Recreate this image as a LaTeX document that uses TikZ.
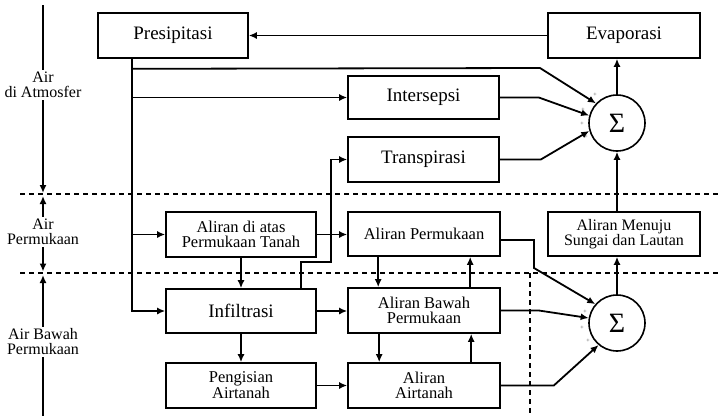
\documentclass[tikz,border=0pt]{standalone}
\usepackage{fontspec}
\setmainfont{Liberation Serif}
\usetikzlibrary{arrows.meta,calc}
\begin{document}
\begin{tikzpicture}[x=1pt,y=-1pt,
 box/.style={draw,line width=1.6pt,inner sep=0pt,align=center,minimum width=151pt,minimum height=45pt,font=\fontsize{19}{19}\selectfont},
 box2/.style={box,font=\fontsize{16.5}{15}\selectfont},
 arr/.style={line width=1.8pt,-{Latex[length=8pt,width=7pt]}},
 ln/.style={line width=1.8pt},
 dsh/.style={line width=1.4pt,dash pattern=on 5pt off 4pt},
 lab/.style={align=center,font=\fontsize{16}{15}\selectfont,inner sep=2pt},
 sig/.style={draw,circle,line width=1.6pt,minimum size=56pt,inner sep=0pt,font=\fontsize{28}{28}\selectfont},
 pl/.style={font=\fontsize{6}{6}\selectfont,text=black!75,inner sep=0pt}]
\useasboundingbox (0,0) rectangle (718,416);

% boxes
\node[box,minimum width=150pt] (pres) at (173,35.5) {Presipitasi};
\node[box,minimum width=152pt] (evap) at (624,35.5) {Evaporasi};
\node[box,minimum height=43pt] (inter) at (423.5,97.5) {Intersepsi};
\node[box] (trans) at (423.5,159.5) {Transpirasi};
\node[sig] (s1) at (617,123) {Σ};
\node[box2,minimum width=150pt] (atas) at (241,234.5) {Aliran di atas\\Permukaan Tanah};
\node[box2,minimum width=152pt,minimum height=44pt] (perm) at (424,234) {Aliran Permukaan};
\node[box2,minimum width=152pt,minimum height=44pt,font=\fontsize{16}{15}\selectfont] (menuju) at (624,234) {Aliran Menuju\\Sungai dan Lautan};
\node[box,minimum width=150pt,minimum height=44pt] (infil) at (241,311) {Infiltrasi};
\node[box2,minimum width=152pt] (bawah) at (424,310.5) {Aliran Bawah\\Permukaan};
\node[sig] (s2) at (617,323) {Σ};
\node[box2,minimum width=150pt] (peng) at (241,385.5) {Pengisian\\Airtanah};
\node[box2,minimum width=152pt] (airt) at (424,385.5) {Aliran\\Airtanah};

% dashed separators
\coordinate (da1) at (20,194); \coordinate (da2) at (718,194);
\coordinate (db1) at (20,273); \coordinate (db2) at (718,273);
\coordinate (dv1) at (530,273); \coordinate (dv2) at (530,416);
\draw[dsh] (da1) -- (da2);
\draw[dsh] (db1) -- (db2);
\draw[dsh] (dv1) -- (dv2);

% left labels
\node[lab] (latm) at (43,85) {Air\\di Atmosfer};
\node[lab] (lperm) at (43,232) {Air\\Permukaan};
\node[lab] (lbaw) at (43,342) {Air Bawah\\Permukaan};
\coordinate (t0) at (43,5);
\coordinate (d1) at (43,193);
\coordinate (d1b) at (43,196);
\coordinate (d2) at (43,271.5);
\coordinate (d2b) at (43,275);
\coordinate (bot) at (43,416);
\draw[ln] (t0) -- (latm.north);
\draw[arr] (latm.south) -- (d1);
\draw[arr] (lperm.north) -- (d1b);
\draw[arr] (lperm.south) -- (d2);
\draw[arr] (lbaw.north) -- (d2b);
\draw[ln] (lbaw.south) -- (bot);

% top connections
\draw[arr] (evap) -- (pres);
\draw[arr] (s1.north) -- (s1.north |- evap.south);
\draw[arr] (s1.south |- menuju.north) -- (s1.south);

% trunk from Presipitasi
\coordinate (ptop) at ($(pres.south west)+(35,0)$);
\coordinate (p68) at ($(ptop)+(0,10)$);
\coordinate (k1) at (540,68);
\draw[arr] (ptop) |- (infil.west);
\draw[arr] (ptop |- atas.west) -- (atas.west);
\draw[arr] (ptop |- inter.west) -- (inter.west);
\draw[arr] (p68) -- (k1) -- (s1.137);

% into sigma 1
\draw[arr] (inter.east) -- ++(39,0) -- (s1.165);
\draw[arr] (trans.east) -- ++(41,0) -- (s1.196);

% infiltrasi to transpirasi
\coordinate (i1) at ($(infil.north east)+(-16,0)$);
\draw[arr] (i1) -- ++(0,-26) -- ++(30,0) |- (trans.west);

% middle connections
\draw[arr] (atas.east) -- (perm.west |- atas.east);
\draw[arr] (atas.south) -- (infil.north);
\draw[arr] (infil.south) -- (peng.north);
\draw[arr] (infil.east) -- (bawah.west |- infil.east);
\draw[arr] (peng.east) -- (airt.west);
\draw[arr] ($(perm.south west)+(31,0)$) -- ($(bawah.north west)+(31,0)$);
\draw[arr] ($(bawah.north west)+(123,0)$) -- ($(perm.south west)+(123,0)$);
\draw[arr] ($(bawah.south west)+(32,0)$) -- ($(airt.north west)+(32,0)$);
\draw[arr] ($(airt.north west)+(124,0)$) -- ($(bawah.south west)+(124,0)$);

% into sigma 2
\coordinate (pe) at ($(perm.east)+(0,6)$);
\draw[arr] (pe) -- (534,240) -- (534,268) -- (s2.139);
\draw[arr] (bawah.east) -- ++(38,0) -- (s2.170);
\draw[arr] (airt.east) -- ++(53,0) -- (s2.230);
\draw[arr] (s2.north) -- (s2.north |- menuju.south);

% small signs at the summing points
\node[pl] (m1) at (595,95) {+};
\node[pl] (m2) at (583,110) {+};
\node[pl] (m3) at (582,124) {+};
\node[pl] (m4) at (586,137) {+};
\node[pl] (m5) at (585,312) {+};
\node[pl] (m6) at (582,328) {+};
\node[pl] (m7) at (588,341) {+};
\end{tikzpicture}
\end{document}
